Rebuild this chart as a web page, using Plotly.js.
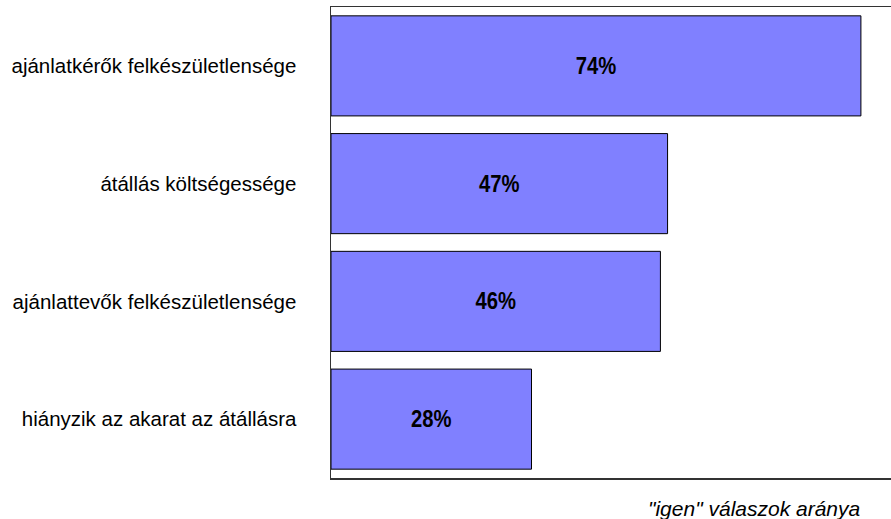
<!DOCTYPE html>
<html>
<head>
<meta charset="utf-8">
<script src="https://cdn.plot.ly/plotly-3.0.1.min.js"></script>
<style>html,body{margin:0;padding:0;background:#fff;}#chart{width:891px;height:519px;}</style>
</head>
<body>
<div id="chart"></div>
<script>
const categories = ["ajánlatkérők felkészületlensége", "átállás költségessége", "ajánlattevők felkészületlensége", "hiányzik az akarat az átállásra"];
const values = [74, 47, 46, 28];
const valueLabels = ["74%", "47%", "46%", "28%"];
const axisTitle = "\"igen\" válaszok aránya";

const trace = {
  type: "bar",
  orientation: "h",
  y: categories,
  x: values,
  text: valueLabels,
  textposition: "inside",
  insidetextanchor: "middle",
  textangle: 0,
  textfont: {family: "Liberation Sans, Arial", size: 23, color: "#000", weight: "bold"},
  marker: {color: "#8080ff", line: {color: "#000", width: 1}},
  hoverinfo: "none"
};

const layout = {
  width: 891, height: 519,
  margin: {l: 331, r: 0, t: 7, b: 41},
  paper_bgcolor: "#fff", plot_bgcolor: "#fff",
  showlegend: false,
  bargap: 0.15,
  font: {family: "Liberation Sans, Arial, sans-serif", size: 20, color: "#000"},
  xaxis: {range: [0, 78.2], showgrid: false, zeroline: false, showticklabels: false, ticks: "",
          showline: true, mirror: true, linecolor: "#333", linewidth: 1.5, fixedrange: true},
  yaxis: {autorange: "reversed", showgrid: false, zeroline: false, showline: true, linecolor: "#333", linewidth: 1.5,
          ticks: "outside", ticklen: 29, tickcolor: "rgba(0,0,0,0)", tickfont: {size: 20.5}, fixedrange: true},
  annotations: [{
    text: axisTitle, xref: "paper", yref: "paper", x: (862 - 331) / 560, y: 0, xanchor: "right", yanchor: "middle",
    yshift: -30, showarrow: false, font: {size: 21, style: "italic", color: "#000"}
  }]
};

Plotly.newPlot("chart", [trace], layout, {displayModeBar: false, staticPlot: true}).then(function (gd) {
  // condense the value labels horizontally around their own centres
  gd.querySelectorAll(".bars .bartext").forEach(function (t) {
    const bb = t.getBBox();
    const cx = bb.x + bb.width / 2;
    const tr = t.getAttribute("transform") || "";
    t.setAttribute("transform", tr + " translate(" + cx + ",0) scale(0.88,1) translate(" + (-cx) + ",0)");
  });
});
</script>
</body>
</html>
